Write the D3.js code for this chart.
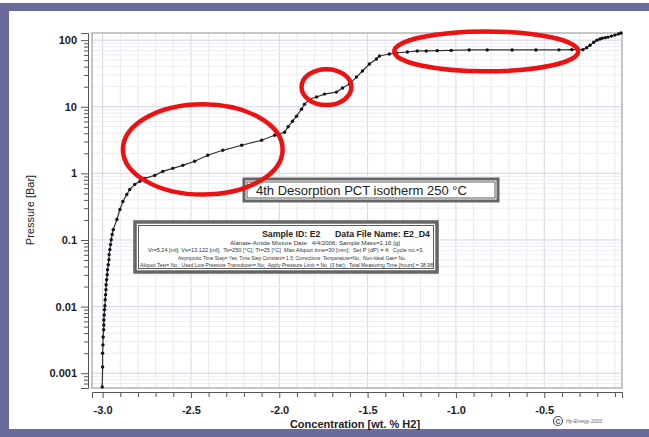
<!DOCTYPE html>
<html>
<head>
<meta charset="utf-8">
<script src="https://cdn.jsdelivr.net/npm/d3@7"></script>
<style>
body{margin:0;background:#fff}
svg{display:block;font-family:Arial,"Liberation Sans",sans-serif}
</style>
</head>
<body>
<svg id="chart" width="649" height="437"></svg>
<script>
// isotherm points
var conc = [-3.002,-3.0,-3.0,-2.998,-2.997,-2.994,-2.993,-2.993,-2.991,-2.989,-2.987,-2.985,-2.983,-2.981,-2.98,-2.977,-2.974,-2.972,-2.968,-2.964,-2.963,-2.959,-2.955,-2.951,-2.946,-2.94,
  -2.919,-2.902,-2.885,-2.863,-2.846,-2.818,-2.789,-2.761,-2.705,-2.659,-2.603,-2.546,-2.479,-2.405,-2.32,-2.213,-2.1,
  -2.026,-1.97,-1.95,-1.925,-1.902,-1.874,-1.857,-1.829,-1.789,-1.744,-1.676,-1.642,-1.603,-1.563,-1.529,-1.49,-1.45,
  -1.433,-1.377,-1.337,-1.275,-1.219,-1.168,-1.106,-1.027,-0.925,-0.823,-0.682,-0.547,-0.417,-0.344,
  -0.281,-0.26,-0.241,-0.22,-0.202,-0.185,-0.173,-0.155,-0.139,-0.12,-0.1,-0.08,-0.065];
var pressure = [0.00062,0.00124,0.002,0.00266,0.0035,0.0045,0.0053,0.0063,0.0075,0.009,0.0103,0.0127,0.0151,0.0179,0.0213,0.0253,0.0301,0.0358,0.0426,0.0507,0.0603,0.0717,0.0853,0.101,0.121,0.143,
  0.203,0.287,0.379,0.483,0.574,0.683,0.758,0.841,0.933,1.07,1.19,1.32,1.52,1.87,2.22,2.64,3.14,
  3.73,4.14,5.0,6.07,7.22,9.2,10.9,13.0,14.0,15.5,16.6,19.1,21.9,27.9,34.4,43.8,52.1,
  57.8,62.0,64.2,66.4,68.8,68.8,69.5,70.2,71.2,71.2,71.2,71.2,71.5,72,
  72,77,84,93,100,104,107,109,111,115,119,124,128];

var xTicks = [-3.0,-2.5,-2.0,-1.5,-1.0,-0.5];
var yTicks = [100,10,1,0.1,0.01,0.001];

var chartTitle = "4th Desorption PCT isotherm 250 °C";
var infoHead = "Sample ID: E2      Data File Name: E2_D4";
var infoLines = [
  "Alanate-Amide Mixture Date:  4/4/2006; Sample Mass=1.16 [g]",
  "Vr=5.24 [ml]; Vs=13.122 [ml];  Ts=250 [°C]; Tr=25 [°C]  Max Aliquot time=30 [min];  Set P (dP) = 4;  Cycle no.=3.",
  "Asymptotic Time Step= Yes; Time Step Constant= 1.5; Corrections: Temperature=No,  Non-Ideal Gas= No.",
  "Aliquot Test= No;  Used Low Pressure Transducer= No;  Apply Pressure Limit = No  (0 bar);  Total Measuring Time [hours] = 38.98"
];

// red hand-drawn highlight rings, in data units
var ringX0 = [-2.885,-1.874,-1.349];
var ringX1 = [-1.981,-1.592,-0.308];
var ringPlo = [0.48,10.6,34];
var ringPhi = [10.9,36.7,135];

var svg = d3.select("#chart");
var W = +svg.attr("width"), H = +svg.attr("height");

var pLeft = 92, pRight = 622, pTop = 33, pBottom = 388;

var x = d3.scaleLinear().domain([-3.06,-0.06]).range([pLeft,pRight]);
var y = d3.scaleLog().domain([0.0006,128]).range([pBottom,pTop]);

// purple frame
var frame = "#6b6a9c";
svg.append("rect").attr("x",0).attr("y",3).attr("width",W).attr("height",8).attr("fill",frame);
svg.append("rect").attr("x",0).attr("y",3).attr("width",9).attr("height",H-3).attr("fill",frame);
svg.append("rect").attr("x",0).attr("y",429).attr("width",W).attr("height",8).attr("fill",frame);

// grid
var grid = svg.append("g");
var xMinor = d3.range(0,30).map(function(i){return -3.0+i*0.1;});
grid.selectAll(".vx").data(xMinor).enter().append("line")
  .attr("x1",function(d){return x(d);}).attr("x2",function(d){return x(d);})
  .attr("y1",pTop).attr("y2",pBottom)
  .attr("stroke",function(d,i){return i%5==0 ? "#d3d5e8" : "#e8e9f2";})
  .attr("stroke-width",1);
var yMinor = y.ticks();
grid.selectAll(".hy").data(yMinor).enter().append("line")
  .attr("x1",pLeft).attr("x2",pRight)
  .attr("y1",function(d){return y(d);}).attr("y2",function(d){return y(d);})
  .attr("stroke",function(d){return yTicks.indexOf(d)>=0 ? "#d3d5e8" : "#ecedf4";})
  .attr("stroke-width",1);

svg.append("rect").attr("x",pLeft).attr("y",pTop).attr("width",pRight-pLeft).attr("height",pBottom-pTop)
  .attr("fill","none").attr("stroke","#b4b4b4").attr("stroke-width",1.5);

// y axis, slightly offset from the box
var yAxis = d3.axisLeft(y).tickValues(yTicks).tickFormat(function(d){return String(d);}).tickSize(7).tickPadding(4);
var gy = svg.append("g").attr("transform","translate(88,0)").call(yAxis);
gy.select(".domain").attr("stroke","#555");
gy.selectAll(".tick line").attr("stroke","#555");
gy.selectAll("text").attr("font-size",11).attr("font-weight","bold").attr("fill","#222");
var gy2 = svg.append("g").attr("transform","translate(88,0)")
  .call(d3.axisLeft(y).tickValues(yMinor.filter(function(d){return yTicks.indexOf(d)<0;})).tickFormat("").tickSize(4));
gy2.select(".domain").remove();
gy2.selectAll(".tick line").attr("stroke","#555");

// x axis
var xAxis = d3.axisBottom(x).tickValues(xTicks).tickFormat(function(d){return d.toFixed(1);}).tickSize(6).tickPadding(8);
var gx = svg.append("g").attr("transform","translate(0,392)").call(xAxis);
gx.select(".domain").attr("stroke","#555");
gx.selectAll(".tick line").attr("stroke","#555");
gx.selectAll("text").attr("font-size",11).attr("font-weight","bold").attr("fill","#222");
var gx2 = svg.append("g").attr("transform","translate(0,392)")
  .call(d3.axisBottom(x).tickValues(xMinor.filter(function(d,i){return i%5!=0;})).tickFormat("").tickSize(5));
gx2.select(".domain").remove();
gx2.selectAll(".tick line").attr("stroke","#555");

svg.append("text").attr("x",355).attr("y",428).attr("text-anchor","middle")
  .attr("font-size",11).attr("font-weight","bold").attr("fill","#222").text("Concentration [wt. % H2]");
svg.append("text").attr("transform","translate(34,210) rotate(-90)").attr("text-anchor","middle")
  .attr("font-size",11).attr("fill","#222").text("Pressure [Bar]");

// curve
var line = d3.line().x(function(d){return x(d[0]);}).y(function(d){return y(d[1]);});
var pts = d3.zip(conc,pressure);
svg.append("path").datum(pts).attr("d",line).attr("fill","none").attr("stroke","#333").attr("stroke-width",1.2);
svg.append("g").selectAll("circle").data(pts).enter().append("circle")
  .attr("cx",function(d){return x(d[0]);}).attr("cy",function(d){return y(d[1]);})
  .attr("r",1.7).attr("fill","#111");

// title box
var tb = svg.append("g");
tb.append("rect").attr("x",244).attr("y",179).attr("width",254).attr("height",22)
  .attr("fill","#fff").attr("stroke","#666").attr("stroke-width",3);
tb.append("rect").attr("x",247).attr("y",182).attr("width",248).attr("height",16)
  .attr("fill","none").attr("stroke","#333").attr("stroke-width",0.8);
tb.append("text").attr("x",256).attr("y",195).attr("font-size",13).attr("fill","#222").text(chartTitle);

// info box
var ib = svg.append("g");
ib.append("rect").attr("x",135).attr("y",222).attr("width",302).attr("height",50)
  .attr("fill","#fff").attr("stroke","#666").attr("stroke-width",3.5);
ib.append("rect").attr("x",138.5).attr("y",225.5).attr("width",295).attr("height",43)
  .attr("fill","none").attr("stroke","#333").attr("stroke-width",0.8);
ib.append("text").attr("x",262).attr("y",237).style("white-space","pre")
  .attr("font-size",9.5).attr("font-weight","bold").attr("fill","#222")
  .attr("textLength",168).attr("lengthAdjust","spacingAndGlyphs").text(infoHead);
var lineX = [230,148,178,140];
var lineW = [170,276,228,293];
ib.selectAll(".info").data(infoLines).enter().append("text")
  .style("white-space","pre")
  .attr("x",function(d,i){return lineX[i];})
  .attr("y",function(d,i){return 245+i*7.3;})
  .attr("textLength",function(d,i){return lineW[i];}).attr("lengthAdjust","spacingAndGlyphs")
  .attr("font-size",5.8).attr("fill","#333").text(function(d){return d;});

// red rings
svg.append("g").selectAll("ellipse").data(ringX0).enter().append("ellipse")
  .attr("cx",function(d,i){return (x(d)+x(ringX1[i]))/2;})
  .attr("cy",function(d,i){return (y(ringPlo[i])+y(ringPhi[i]))/2;})
  .attr("rx",function(d,i){return (x(ringX1[i])-x(d))/2;})
  .attr("ry",function(d,i){return (y(ringPlo[i])-y(ringPhi[i]))/2;})
  .attr("fill","none").attr("stroke","#ee1111").attr("stroke-width",4.5);

// copyright
svg.append("circle").attr("cx",558).attr("cy",421).attr("r",4.5).attr("fill","none").attr("stroke","#555").attr("stroke-width",1.2);
svg.append("text").attr("x",558).attr("y",423.5).attr("text-anchor","middle").attr("font-size",7).attr("font-weight","bold").attr("fill","#555").text("C");
svg.append("text").attr("x",566).attr("y",423).attr("font-size",5).attr("font-style","italic").attr("fill","#666").text("Hy-Energy 2003");
</script>
</body>
</html>
